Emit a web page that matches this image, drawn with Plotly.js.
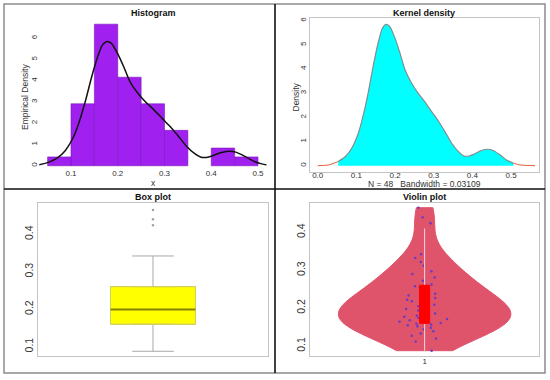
<!DOCTYPE html>
<html>
<head>
<meta charset="utf-8">
<script src="https://cdn.plot.ly/plotly-3.0.1.min.js"></script>
<style>html,body{margin:0;padding:0;background:#fff;}#chart{width:550px;height:380px;}</style>
</head>
<body>
<div id="chart"></div>
<script>
// ---- data ----
const sampleX = [
  0.0877,
  0.112, 0.120, 0.127, 0.133, 0.139, 0.144, 0.148,
  0.152, 0.155, 0.157, 0.159, 0.161, 0.164, 0.168, 0.171, 0.174, 0.177, 0.180, 0.183, 0.186, 0.190, 0.194, 0.198,
  0.201, 0.205, 0.209, 0.213, 0.218, 0.222, 0.227, 0.233, 0.238, 0.246,
  0.254, 0.258, 0.262, 0.272, 0.281, 0.290, 0.297,
  0.312, 0.322, 0.332, 0.342,
  0.424, 0.440,
  0.465
];
const densX = [0.0, 0.028, 0.053, 0.071, 0.088, 0.105, 0.118, 0.131, 0.144, 0.157, 0.167, 0.177, 0.187, 0.200, 0.213, 0.226, 0.243, 0.260, 0.278, 0.295, 0.312, 0.329, 0.347, 0.364, 0.377, 0.390, 0.403, 0.420, 0.437, 0.454, 0.472, 0.489, 0.506, 0.523, 0.562];
const densY = [0.0, 0.03, 0.17, 0.37, 0.72, 1.34, 2.10, 3.06, 4.17, 5.13, 5.68, 5.85, 5.75, 5.27, 4.65, 3.96, 3.41, 2.99, 2.62, 2.23, 1.85, 1.41, 0.92, 0.58, 0.41, 0.39, 0.47, 0.61, 0.68, 0.63, 0.44, 0.23, 0.10, 0.03, 0.0];
const histXTicks = [0.1, 0.2, 0.3, 0.4, 0.5];
const histYTicks = [0, 1, 2, 3, 4, 5, 6];
const densXTicks = [0.0, 0.1, 0.2, 0.3, 0.4, 0.5];
const densYTicks = [0, 1, 2, 3, 4, 5, 6];
const boxYTicks = [0.1, 0.2, 0.3, 0.4];
const violinCats = ['1'];
const violinPos = [1];
// summary statistics
const boxQ1 = [0.16], boxMedian = [0.1995], boxQ3 = [0.26];
const vioLowerWhisker = [0.0877], vioUpperWhisker = [0.41];
const densNote = 'N = 48\u00a0\u00a0\u00a0Bandwidth = 0.03109';

const FONT = 'Liberation Sans, Arial, Helvetica, sans-serif';
const frameCol = '#c4c4c4';
const nD = densX.length;

const traces = [
  // Histogram
  {type:'histogram', x: sampleX, histnorm:'probability density',
   xbins:{start:0.05, end:0.5, size:0.05}, autobinx:false,
   marker:{color:'#A020F0', line:{color:'#7a18b8', width:0.6}},
   xaxis:'x', yaxis:'y', hoverinfo:'skip'},
  {type:'scatter', mode:'lines', x: densX, y: densY, line:{color:'#111', width:1.5, shape:'spline', smoothing:0.6},
   xaxis:'x', yaxis:'y', hoverinfo:'skip'},
  // Kernel density
  {type:'scatter', mode:'lines', x: densX.slice(2, nD-2), y: densY.slice(2, nD-2),
   fill:'tozeroy', fillcolor:'#00FFFF', line:{color:'#7f8f8f', width:1.2, shape:'spline', smoothing:0.6},
   xaxis:'x2', yaxis:'y2', hoverinfo:'skip'},
  {type:'scatter', mode:'lines', x: densX.slice(0, 3), y: densY.slice(0, 3), line:{color:'#e0603a', width:1, shape:'spline', smoothing:0.6},
   xaxis:'x2', yaxis:'y2', hoverinfo:'skip'},
  {type:'scatter', mode:'lines', x: densX.slice(nD-3), y: densY.slice(nD-3), line:{color:'#e0603a', width:1, shape:'spline', smoothing:0.6},
   xaxis:'x2', yaxis:'y2', hoverinfo:'skip'},
  // Box plot
  {type:'box', y: sampleX, x0: 1, width:0.37, whiskerwidth:0.49, fillcolor:'#FFFF00',
   line:{color:'#a8a8a8', width:1}, boxpoints:'outliers',
   marker:{color:'#a0a0a0', size:2.5}, xaxis:'x3', yaxis:'y3', hoverinfo:'skip'},
  {type:'box', x: violinPos, q1: boxQ1, median: boxMedian, q3: boxQ3, lowerfence: boxQ1, upperfence: boxQ3,
   width:0.37, fillcolor:'#FFFF00', line:{color:'#d2cf5a', width:1}, xaxis:'x3', yaxis:'y3', hoverinfo:'skip'},
  {type:'box', x: violinPos, q1: boxMedian, median: boxMedian, q3: boxMedian, lowerfence: boxMedian, upperfence: boxMedian,
   width:0.37, fillcolor:'rgba(0,0,0,0)', line:{color:'#8a8200', width:2}, xaxis:'x3', yaxis:'y3', hoverinfo:'skip'},
  // Violin plot
  {type:'violin', y: sampleX, x0: 1, spanmode:'hard', bandwidth:0.046, scalemode:'width', width:0.75,
   fillcolor:'#DF536B', line:{color:'#DF536B', width:1}, opacity:1,
   points:'all', jitter:0.3, pointpos:0, marker:{color:'#6b3bc4', size:2.5},
   box:{visible:false}, meanline:{visible:false}, xaxis:'x4', yaxis:'y4', hoverinfo:'skip'},
  {type:'box', x: violinPos, q1: boxMedian, median: boxMedian, q3: boxMedian,
   lowerfence: vioLowerWhisker, upperfence: vioUpperWhisker, whiskerwidth:0,
   width:0.001, fillcolor:'rgba(0,0,0,0)', line:{color:'#f6d6dc', width:1}, xaxis:'x4', yaxis:'y4', hoverinfo:'skip'},
  {type:'box', x: violinPos, q1: boxQ1, median: boxMedian, q3: boxQ3, lowerfence: boxQ1, upperfence: boxQ3,
   width:0.044, fillcolor:'#FF0000', line:{color:'#FF0000', width:1}, xaxis:'x4', yaxis:'y4', hoverinfo:'skip'}
];

const tickCommon = {showgrid:false, zeroline:false, ticks:'', ticklen:0, ticklabelstandoff:0,
  tickfont:{family:FONT, size:8, color:'#333'}};
const boxed = {showline:true, mirror:true, linecolor:frameCol, linewidth:1};

const layout = {
  width:550, height:380, margin:{l:0, r:0, t:0, b:0}, showlegend:false,
  paper_bgcolor:'#fff', plot_bgcolor:'#fff', font:{family:FONT, size:8, color:'#222'},
  boxmode:'overlay', violinmode:'overlay', barmode:'overlay', bargap:0,
  xaxis: Object.assign({}, tickCommon, {domain:[0.0713, 0.4844], anchor:'y', range:[0.032, 0.518], tickvals:histXTicks, showline:false, ticklabelstandoff:-4}),
  yaxis: Object.assign({}, tickCommon, {domain:[0.5489, 0.9511], anchor:'x', range:[-0.267, 6.93], tickvals:histYTicks, tickangle:-90, showline:false}),
  xaxis2: Object.assign({}, tickCommon, boxed, {domain:[0.5636, 0.9805], anchor:'y2', range:[-0.02, 0.573], tickvals:densXTicks, tickformat:'.1f', ticklabelstandoff:-4}),
  yaxis2: Object.assign({}, tickCommon, boxed, {domain:[0.5482, 0.9518], anchor:'x2', range:[-0.248, 6.10], tickvals:densYTicks, tickangle:-90}),
  xaxis3: Object.assign({}, tickCommon, boxed, {domain:[0.0696, 0.4867], anchor:'y3', range:[0.5, 1.5], showticklabels:false}),
  yaxis3: Object.assign({}, tickCommon, boxed, {domain:[0.0624, 0.465], anchor:'x3', range:[0.0743, 0.4826], tickvals:boxYTicks, tickangle:-90, tickfont:{family:FONT, size:10.5, color:'#333'}}),
  xaxis4: Object.assign({}, tickCommon, boxed, {domain:[0.5636, 0.9805], anchor:'y4', range:[0.5, 1.5], tickvals:violinPos, ticktext:violinCats, ticklabelstandoff:-2}),
  yaxis4: Object.assign({}, tickCommon, boxed, {domain:[0.0639, 0.465], anchor:'x4', range:[0.0744, 0.4766], tickvals:boxYTicks, tickangle:-90, tickfont:{family:FONT, size:10.5, color:'#333'}}),
  shapes: [
    {type:'rect', xref:'paper', yref:'paper', x0:4/550, x1:545/550, y0:1-373/380, y1:1-4/380, line:{color:'#8c8c8c', width:1.5}},
    {type:'line', xref:'paper', yref:'paper', x0:275/550, x1:275/550, y0:1-373/380, y1:1-4/380, line:{color:'#111', width:1.6}},
    {type:'line', xref:'paper', yref:'paper', x0:4/550, x1:545/550, y0:1-189/380, y1:1-189/380, line:{color:'#111', width:1.6}}
  ],
  annotations: [
    {text:'<b>Histogram</b>', x:153/550, y:1-13/380},
    {text:'<b>Kernel density</b>', x:424/550, y:1-13/380},
    {text:'<b>Box plot</b>', x:153/550, y:1-196.5/380},
    {text:'<b>Violin plot</b>', x:424/550, y:1-197/380},
    {text:'Empirical Density', x:25/550, y:1-97/380, textangle:-90, font:{family:FONT, size:8.5, color:'#333'}},
    {text:'Density', x:295.5/550, y:1-97/380, textangle:-90, font:{family:FONT, size:8.5, color:'#333'}},
    {text:'x', x:153/550, y:1-183/380, font:{family:FONT, size:8.5, color:'#333'}},
    {text:densNote, x:424/550, y:1-183.5/380, font:{family:FONT, size:8.5, color:'#333'}}
  ].map(a => Object.assign({xref:'paper', yref:'paper', showarrow:false, xanchor:'center', yanchor:'middle',
      font:{family:FONT, size:9, color:'#111'}}, a))
};

Plotly.newPlot('chart', traces, layout, {displayModeBar:false, staticPlot:true});
</script>
</body>
</html>
